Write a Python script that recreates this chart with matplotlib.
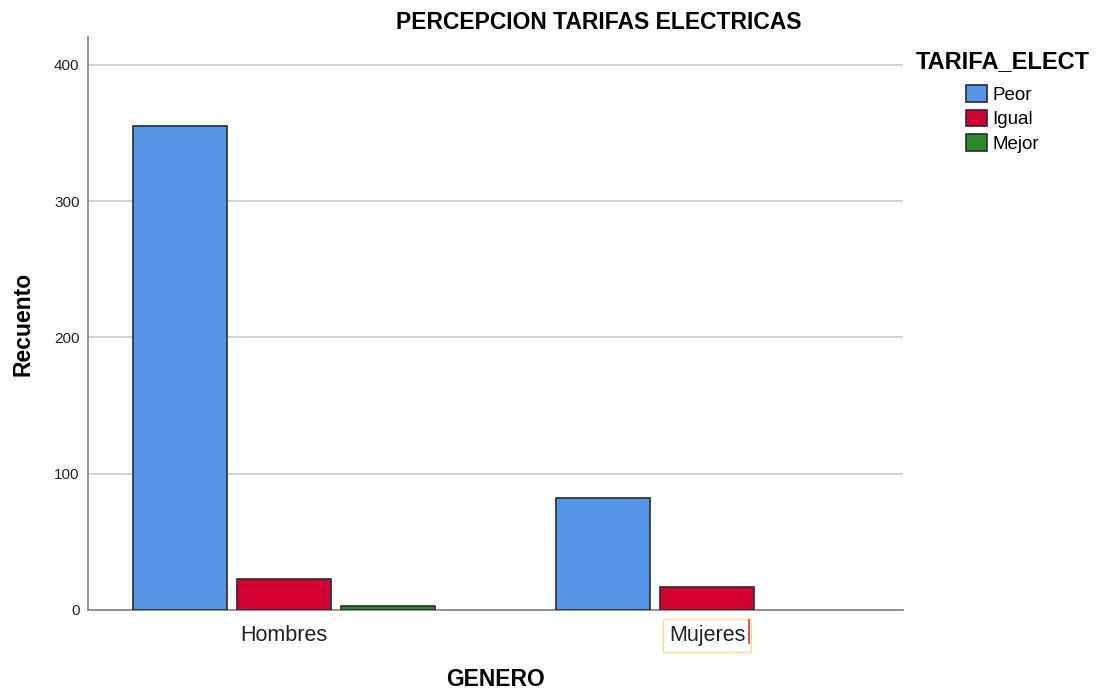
import matplotlib
matplotlib.use("Agg")
import matplotlib.pyplot as plt
import numpy as np
from matplotlib.lines import Line2D

plt.rcParams['font.family'] = ['Liberation Sans', 'DejaVu Sans']

# Datos
generos = ['Hombres', 'Mujeres']
categorias = ['Peor', 'Igual', 'Mejor']
peor = [355, 82]
igual = [23, 17]
mejor = [3, 0]
colores = ['#5596E6', '#D50032', '#2A8A2E']

fig = plt.figure(figsize=(10.98, 6.96), dpi=100, facecolor='white')
ax = fig.add_axes([0.0801, 0.1236, 0.7423, 0.8232])

x = np.arange(len(generos))
ancho = 0.222
paso = 0.246
for i, (vals, nombre) in enumerate(zip([peor, igual, mejor], categorias)):
    barras = ax.bar(x + (i - 1) * paso, vals, width=ancho, color=colores[i],
                    edgecolor='#2b2b2b', linewidth=1.2, label=nombre, zorder=3)
    # las barras en cero no se dibujan
    for b, v in zip(barras, vals):
        if v == 0:
            b.set_visible(False)

ax.set_xlim(-0.4634, 1.4634)
ax.set_ylim(0, 420.5)
ax.set_yticks([0, 100, 200, 300, 400])
ax.yaxis.grid(True, color='#d0d0d0', linewidth=1.3, zorder=0)
ax.tick_params(axis='y', length=0, labelsize=11, pad=6, labelcolor='#222222')
ax.tick_params(axis='x', length=0, labelsize=15.5, pad=11, labelcolor='#222222')
ax.set_xticks(x)
ax.set_xticklabels(generos)
for s in ['top', 'right']:
    ax.spines[s].set_visible(False)
for s in ['left', 'bottom']:
    ax.spines[s].set_color('#8a8a8a')
    ax.spines[s].set_linewidth(1.3)

# etiqueta seleccionada de Mujeres
lbl = ax.get_xticklabels()[1]
lbl.set_bbox(dict(facecolor='white', edgecolor='#F7DD8E', linewidth=1, pad=4.5))
fig.add_artist(Line2D([0.6822, 0.6822], [1 - 620 / 696, 1 - 643 / 696],
                      color='#E03030', linewidth=1.2))

ax.set_ylabel('Recuento', fontsize=16.5, fontweight='bold', labelpad=14)
ax.set_xlabel('GENERO', fontsize=16.5, fontweight='bold', labelpad=16)
fig.text(0.545, 0.968, 'PERCEPCION TARIFAS ELECTRICAS', ha='center', va='center',
         fontsize=16.5, fontweight='bold')

leg = ax.legend(title='TARIFA_ELECT', loc='upper left',
                bbox_to_anchor=(0.8185, 0.953), bbox_transform=fig.transFigure,
                frameon=False, fontsize=13.5, handlelength=1.1, handleheight=1.0,
                handletextpad=0.3, labelspacing=0.3,
                title_fontproperties={'size': 17, 'weight': 'bold'})
leg._legend_box.sep = 9

fig.savefig('out.png', dpi=100)
